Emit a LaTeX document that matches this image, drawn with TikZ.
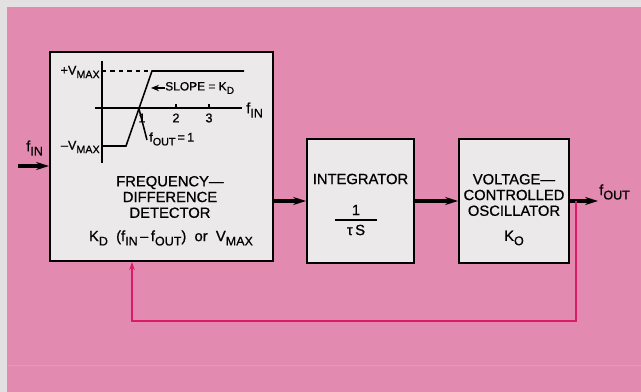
\documentclass[tikz,border=0pt]{standalone}
\usepackage{fontspec}
\setmainfont{Liberation Sans}[BoldFont=Liberation Sans, BoldFeatures={FakeBold=0.8}]
\usetikzlibrary{arrows.meta,positioning,calc}
\definecolor{pagebg}{HTML}{E28AB0}
\definecolor{edgebg}{HTML}{E2E0E0}
\definecolor{boxfill}{HTML}{ECE9EA}
\definecolor{loopred}{HTML}{D91C68}
\newcommand{\lo}[1]{\raisebox{-0.55ex}{\scalebox{0.85}{#1}}}

\begin{document}
\begin{tikzpicture}[x=0.025cm, y=-0.025cm,
  box/.style={rectangle, draw=black, line width=1.4pt, fill=boxfill},
  lbl/.style={align=center, inner sep=0pt, font=\bfseries\fontsize{10.5}{11.2}\selectfont},
  small/.style={inner sep=0pt, font=\bfseries\fontsize{9}{10}\selectfont},
  arr/.style={-{Stealth[length=3.2mm, width=2mm]}, line width=2.2pt},
  fb/.style={-{Stealth[length=2mm, width=1.4mm]}, line width=1pt, loopred},
  plot/.style={line width=1.1pt}
]
  \useasboundingbox (0,0) rectangle (641,392);
  \fill[edgebg] (0,0) rectangle (641,392);
  \fill[pagebg] (7,7) rectangle (641,392);
  \draw[pagebg!88!white, line width=0.4pt] (7,365) -- (641,365);

  % blocks
  \node[box, minimum width=5.575cm, minimum height=5.225cm] (det) at (161.5,156.5) {};
  \node[box, minimum width=2.675cm, minimum height=3.1cm] (int) at (360.5,201) {};
  \node[box, minimum width=2.75cm, minimum height=3.1cm] (vco) at (514,201) {};

  % transfer curve of the detector
  \draw[plot] (102,61) -- (102,163);
  \draw[plot] (95,108) -- (242,108);
  \draw[plot, dashed] (102,71) -- (148,71);
  \draw[plot] (244,71) -- (152,71) -- (126,146) -- (102,146);
  \foreach \x in {176,209} \draw[plot] (\x,104) -- (\x,108);
  \draw[plot] (139,109) -- (147,140);
  \node[small] (one) at (142,118) {1};
  \node[small] (two) at (176,118) {2};
  \node[small] (three) at (209,118) {3};
  \node[small, anchor=east] (vmaxp) at (100,72) {+V\lo{MAX}};
  \node[small, anchor=east] (vmaxm) at (100,147) {--V\lo{MAX}};
  \node[lbl, anchor=west] (axf) at (246,110) {f\lo{IN}};
  \node[small, anchor=west, font=\bfseries\fontsize{8.5}{9}\selectfont] (slope) at (165,88) {SLOPE = K\lo{D}};
  \draw[-{Stealth[length=2mm, width=1.6mm]}, plot] (slope.west) -- ++(-14,0);
  \node[small, anchor=west] (fone) at (149,139) {f\lo{OUT}\,=\,1};

  % block texts
  \node[lbl] (detname) at (170,197) {FREQUENCY---\\DIFFERENCE\\DETECTOR};
  \node[lbl] (detlaw) at (171,238) {K\lo{D}\ \ (f\lo{IN}\,--\,f\lo{OUT})\ \ or\ \ V\lo{MAX}};
  \node[lbl] (intname) at (360.5,179) {INTEGRATOR};
  \node[lbl] (num) at (356,210) {1};
  \node[lbl] (den) at (356,230) {τ\,S};
  \draw[line width=0.9pt] ($(num)!0.5!(den)$) +(-21,0) -- +(21,0);
  \node[lbl] (vconame) at (514,195) {VOLTAGE---\\CONTROLLED\\OSCILLATOR};
  \node[lbl] (vcogain) at (514,238) {K\lo{O}};

  % signal path
  \coordinate (fin) at (18,166);
  \coordinate (fout) at (598,201);
  \coordinate (tap) at (576,201);
  \coordinate (fbturn) at (132,321);
  \node[lbl, anchor=west] (finlbl) at (26,148) {f\lo{IN}};
  \node[lbl, anchor=west] (foutlbl) at (599,192) {f\lo{OUT}};

  \draw[arr] (fin) -- (fin -| det.west);
  \draw[arr] (det.east |- int.center) -- (int.west);
  \draw[arr] (int.east) -- (vco.west);
  \draw[arr] (vco.east) -- (fout);
  \draw[fb] (tap) |- (fbturn) -- (det.south -| fbturn);
\end{tikzpicture}
\end{document}
